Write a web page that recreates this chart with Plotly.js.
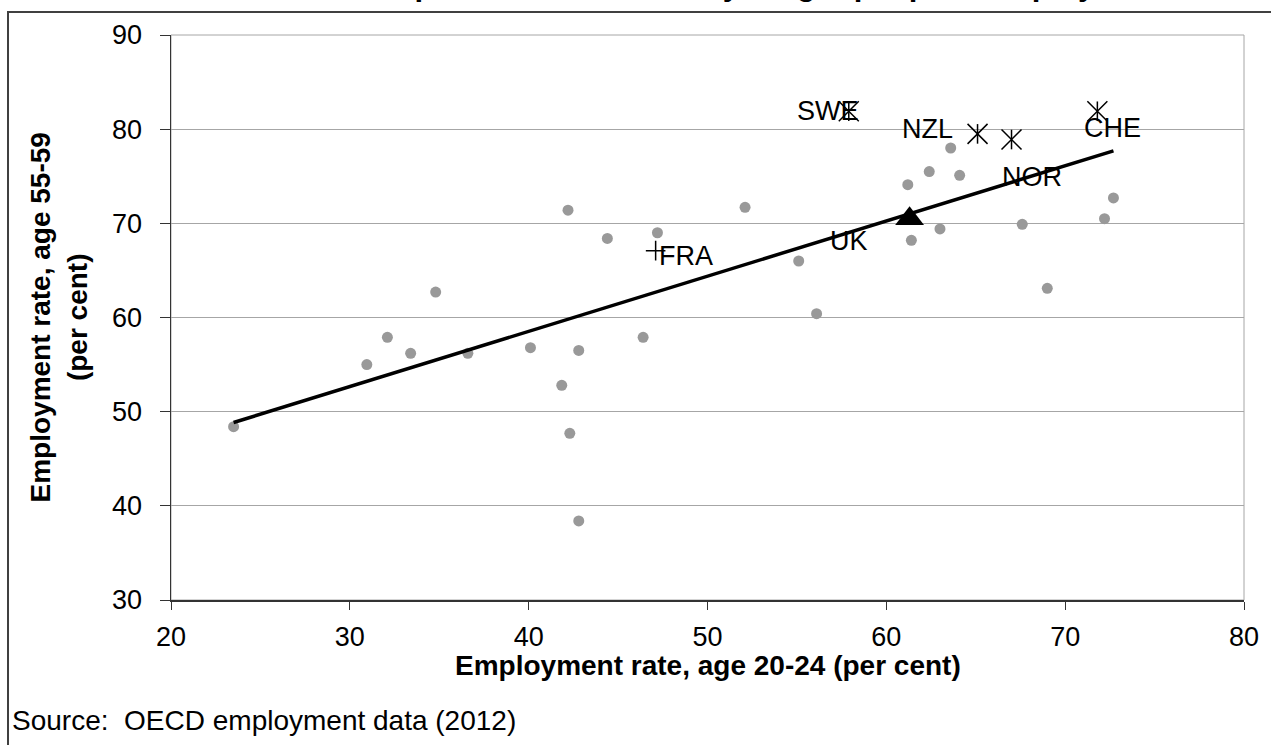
<!DOCTYPE html>
<html><head><meta charset="utf-8">
<script src="https://cdn.plot.ly/plotly-3.0.1.min.js"></script>
<style>html,body{margin:0;padding:0;background:#fff;overflow:hidden}#chart{width:1271px;height:745px}</style>
</head><body><div id="chart"></div>
<script>
// ---- data ----
const otherX = [23.5, 30.95, 32.1, 33.4, 34.8, 36.6, 40.1, 41.85, 42.3, 42.8, 42.2, 44.4, 47.2, 46.4, 52.1, 55.1, 56.1, 61.2, 62.4, 63.6, 64.1, 61.4, 63.0, 67.6, 72.2, 72.7, 69.0, 42.8];
const otherY = [48.4, 55.0, 57.9, 56.2, 62.7, 56.2, 56.8, 52.8, 47.7, 56.5, 71.4, 68.4, 69.0, 57.9, 71.7, 66.0, 60.4, 74.1, 75.5, 78.0, 75.1, 68.2, 69.4, 69.9, 70.5, 72.7, 63.1, 38.4];
const starLabels = ["SWE", "NZL", "NOR", "CHE"];
const starX = [57.9, 65.1, 67.0, 71.8];
const starY = [81.9, 79.5, 78.9, 81.9];
const fraLabel = ["FRA"];
const fraX = [47.1];
const fraY = [67.1];
const ukLabel = ["UK"];
const ukX = [61.3];
const ukY = [70.5];
const trendX = [23.5, 72.7];
const trendY = [48.85, 77.7];
const xTickVals = [20, 30, 40, 50, 60, 70, 80];
const yTickVals = [30, 40, 50, 60, 70, 80, 90];
const chartTitle = "The relationship between older and younger people's employment";
const xTitle = "Employment rate, age 20-24 (per cent)";
const yTitle = "Employment rate, age 55-59<br>(per cent)";
const sourceText = "Source:  OECD employment data (2012)";

// ---- label placement (style) ----
const labelPos = {
  SWE: {xanchor: "right", xshift: 12, yshift: 0},
  NZL: {xanchor: "right", xshift: -23, yshift: 5},
  NOR: {xanchor: "left", xshift: -12, yshift: -37},
  CHE: {xanchor: "left", xshift: -15, yshift: -17},
  FRA: {xanchor: "left", xshift: 1, yshift: -5},
  UK:  {xanchor: "center", xshift: -61, yshift: -22}
};

const FONT = "Liberation Sans, Arial, sans-serif";

const traces = [
  {x: otherX, y: otherY, type: "scatter", mode: "markers",
   marker: {color: "#999999", size: 11}, hoverinfo: "x+y"},
  {x: trendX, y: trendY, type: "scatter", mode: "lines",
   line: {color: "#000000", width: 3.5}, hoverinfo: "skip"},
  {x: starX, y: starY, type: "scatter", mode: "markers", text: starLabels,
   marker: {symbol: "x-thin-open", size: 20, color: "#000", line: {color: "#000", width: 1.5}}},
  {x: starX, y: starY, type: "scatter", mode: "markers", text: starLabels, hoverinfo: "skip",
   marker: {symbol: "line-ns-open", size: 14, color: "#000", line: {color: "#000", width: 1.5}}},
  {x: fraX, y: fraY, type: "scatter", mode: "markers", text: fraLabel,
   marker: {symbol: "cross-thin-open", size: 14, color: "#000", line: {color: "#000", width: 1.5}}},
  {x: ukX, y: ukY, type: "scatter", mode: "markers", text: ukLabel,
   marker: {symbol: "triangle-up", size: 25, color: "#000"}}
];

const annotations = [];
function addLabels(labels, xs, ys) {
  labels.forEach((lab, i) => {
    const p = labelPos[lab];
    annotations.push({x: xs[i], y: ys[i], xref: "x", yref: "y", text: lab, showarrow: false,
      xanchor: p.xanchor, yanchor: "middle", xshift: p.xshift, yshift: p.yshift,
      font: {family: FONT, size: 27, color: "#000"}});
  });
}
addLabels(starLabels, starX, starY);
addLabels(fraLabel, fraX, fraY);
addLabels(ukLabel, ukX, ukY);

annotations.push({xref: "paper", yref: "paper", x: 0.4762, y: 1.0552, xanchor: "center", yanchor: "bottom",
  text: "<b>" + chartTitle + "</b>", showarrow: false, font: {family: FONT, size: 31, color: "#000"}});
annotations.push({xref: "paper", yref: "paper", x: 0.5, y: -0.1160, xanchor: "center", yanchor: "middle",
  borderpad: 0, text: "<b>" + xTitle + "</b>", showarrow: false, font: {family: FONT, size: 28, color: "#000"}});
annotations.push({xref: "paper", yref: "paper", x: -0.1044, y: 0.5, xanchor: "center", yanchor: "middle",
  textangle: -90, text: "<b>" + yTitle + "</b>", showarrow: false, font: {family: FONT, size: 28, color: "#000"}});
annotations.push({xref: "paper", yref: "paper", x: -0.1501, y: -0.2124, xanchor: "left", yanchor: "middle",
  text: sourceText, showarrow: false, font: {family: FONT, size: 28, color: "#000"}});

const layout = {
  width: 1271, height: 745,
  margin: {l: 171, r: 27, t: 35, b: 145, pad: 0},
  paper_bgcolor: "#fff", plot_bgcolor: "#fff",
  showlegend: false,
  font: {family: FONT, size: 27, color: "#000"},
  xaxis: {range: [20, 80], tickvals: xTickVals, showgrid: false, zeroline: false,
    showline: true, linecolor: "#333", linewidth: 2, ticks: "outside", ticklen: 8, tickcolor: "#333", tickwidth: 1,
    ticklabelstandoff: 4, tickfont: {family: FONT, size: 27, color: "#000"}},
  yaxis: {range: [30, 90], tickvals: yTickVals, showgrid: true, gridcolor: "#a6a6a6", gridwidth: 1, zeroline: false,
    showline: true, linecolor: "#333", linewidth: 1.5, ticks: "outside", ticklen: 10, tickcolor: "#333", tickwidth: 1,
    ticklabelstandoff: 12, tickfont: {family: FONT, size: 27, color: "#000"}},
  shapes: [
    {type: "rect", xref: "paper", yref: "paper", x0: 0, x1: 1, y0: 0, y1: 1,
     line: {color: "#a6a6a6", width: 1}, layer: "below"},
    {type: "rect", xref: "paper", yref: "paper", x0: -0.1519, x1: 1.2, y0: -0.5, y1: 1.0407,
     line: {color: "#404040", width: 2}, fillcolor: "rgba(0,0,0,0)", layer: "below"}
  ],
  annotations: annotations
};

Plotly.newPlot("chart", traces, layout, {displayModeBar: false, staticPlot: true});
</script></body></html>
